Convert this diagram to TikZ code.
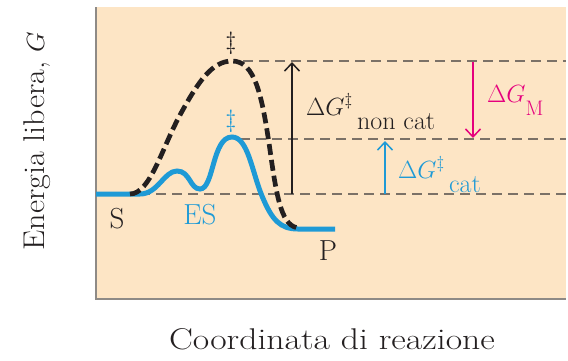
\documentclass[tikz,border=0pt]{standalone}
\usetikzlibrary{arrows.meta}
\definecolor{peach}{HTML}{FDE5C5}
\definecolor{cblue}{HTML}{1E9AD6}
\definecolor{cmag}{HTML}{E5007D}
\definecolor{dgray}{HTML}{7B7167}
\definecolor{fgray}{HTML}{8E8A86}
\definecolor{ink}{HTML}{231F20}
\tikzset{
  lbl/.style={inner sep=0pt, text=ink, font=\fontsize{26}{30}\selectfont},
  big/.style={inner sep=0pt, text=ink, font=\fontsize{29}{33}\selectfont},
  axis/.style={inner sep=0pt, text=ink, font=\fontsize{30}{34}\selectfont},
  level/.style={dgray, line width=1.4pt, dash pattern=on 10pt off 6pt},
  catcurve/.style={cblue, line width=5pt},
  uncurve/.style={ink, line width=4.7pt, dash pattern=on 11pt off 5pt},
  barb/.style={-{Straight Barb[length=8pt,width=15pt,line width=1.5pt]}},
}
\begin{document}
\begin{tikzpicture}[x=1pt,y=-1pt]
\useasboundingbox (0,0) rectangle (568,360);
\fill[peach] (96,7) rectangle (566,299);
\draw[fgray, line width=1.5pt] (96,7) -- (96,299) -- (566,299);
% level coordinates
\coordinate (topL) at (243,61);
\coordinate (topR) at (566,61);
\coordinate (midL) at (240,139);
\coordinate (midR) at (566,139);
\coordinate (botL) at (140,194);
\coordinate (botR) at (566,194);
\draw[level] (topL) -- (topR);
\draw[level] (midL) -- (midR);
\draw[level] (botL) -- (botR);
% catalysed curve
\draw[catcurve] (96,194) -- (140,194)
  .. controls (158,194) and (164,171) .. (177,171)
  .. controls (190,171) and (190,189) .. (200,189)
  .. controls (214,189) and (212,137) .. (232,137)
  .. controls (248,137) and (252,172) .. (262,196)
  .. controls (272,220) and (280,229) .. (298,229)
  -- (335,229);
% uncatalysed curve
\draw[uncurve] (130,194)
  .. controls (150,194) and (162,148) .. (180,115)
  .. controls (198,82) and (212,61) .. (232,61)
  .. controls (255,61) and (262,95) .. (270,150)
  .. controls (277,200) and (282,228) .. (300,228);
% arrows
\coordinate (a1s) at (292,194);
\coordinate (a1e) at (292,62);
\draw[ink, line width=1.2pt, barb] (a1s) -- (a1e);
\coordinate (a2s) at (473,62);
\coordinate (a2e) at (473,138);
\draw[cmag, line width=2pt, barb] (a2s) -- (a2e);
\coordinate (a3s) at (385,194);
\coordinate (a3e) at (385,141);
\draw[cblue, line width=2pt, barb] (a3s) -- (a3e);
% labels
\node[lbl] (dd1) at (231,43) {$\ddagger$};
\node[lbl, text=cblue] (dd2) at (231,121) {$\ddagger$};
\node[big, anchor=base] (S) at (117,228) {S};
\node[big, anchor=base, text=cblue] (ES) at (200,224) {ES};
\node[big, anchor=base] (P) at (328,260) {P};
\node[lbl, anchor=base west] (gnc) at (306,115) {$\Delta G^{\ddagger}$\,\raisebox{-14pt}{non cat}};
\node[lbl, anchor=base west, text=cmag] (gm) at (487,102) {$\Delta G$\raisebox{-13pt}{\fontsize{21}{24}\selectfont M}};
\node[lbl, anchor=base west, text=cblue] (gc) at (398,178) {$\Delta G^{\ddagger}$\,\raisebox{-14pt}{cat}};
\node[axis, anchor=base] (xl) at (332,349) {\scalebox{1.19}[1]{Coordinata di reazione}};
\node[axis, anchor=base, rotate=90] (yl) at (44,141) {\scalebox{1.07}[1]{Energia libera, $G$}};
\end{tikzpicture}
\end{document}
